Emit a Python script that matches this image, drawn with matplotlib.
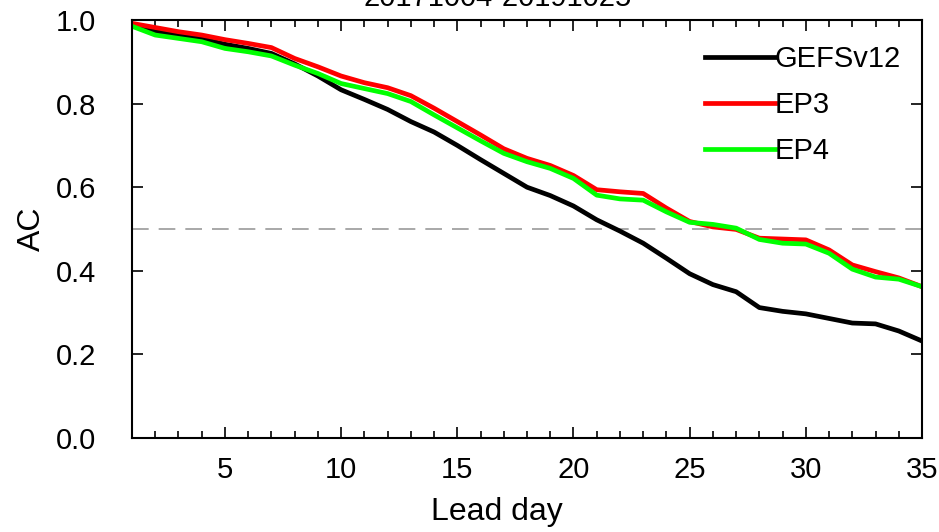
import matplotlib
matplotlib.use('Agg')
import matplotlib.pyplot as plt
from matplotlib import font_manager
from matplotlib.ticker import MultipleLocator
import numpy as np

names = set(f.name for f in font_manager.fontManager.ttflist)
font = 'Liberation Sans Narrow' if 'Liberation Sans Narrow' in names else 'Liberation Sans'
plt.rcParams['font.family'] = [font, 'DejaVu Sans']

lead_day = np.arange(1, 36)
gefsv12 = [0.988, 0.972, 0.964, 0.955, 0.942, 0.932, 0.920, 0.895, 0.866, 0.833,
           0.810, 0.786, 0.757, 0.732, 0.700, 0.666, 0.633, 0.600, 0.580, 0.555,
           0.522, 0.495, 0.466, 0.430, 0.393, 0.367, 0.350, 0.312, 0.303, 0.297,
           0.286, 0.275, 0.273, 0.256, 0.232]
ep3 = [0.992, 0.982, 0.972, 0.964, 0.953, 0.944, 0.934, 0.908, 0.888, 0.866,
       0.850, 0.838, 0.819, 0.789, 0.757, 0.725, 0.692, 0.669, 0.652, 0.628,
       0.594, 0.589, 0.585, 0.550, 0.518, 0.505, 0.499, 0.478, 0.476, 0.474,
       0.450, 0.414, 0.398, 0.383, 0.362]
ep4 = [0.985, 0.964, 0.956, 0.948, 0.932, 0.924, 0.914, 0.892, 0.872, 0.848,
       0.836, 0.824, 0.805, 0.773, 0.742, 0.711, 0.681, 0.661, 0.645, 0.621,
       0.581, 0.572, 0.569, 0.541, 0.516, 0.511, 0.502, 0.475, 0.466, 0.464,
       0.442, 0.404, 0.385, 0.380, 0.362]
title = '20171004-20191025'

fig = plt.figure(figsize=(9.39, 5.32), dpi=100)
ax = fig.add_axes([0.1406, 0.1767, 0.8413, 0.7857])

ax.axhline(0.5, color='#999999', lw=1.2, dashes=(10, 6), zorder=1)
ax.plot(lead_day, gefsv12, color='black', lw=3.4, label='GEFSv12')
ax.plot(lead_day, ep3, color='#ff0000', lw=3.4, label='EP3')
ax.plot(lead_day, ep4, color='#00ff00', lw=3.4, label='EP4')

ax.set_xlim(1, 35)
ax.set_ylim(0, 1)
ax.xaxis.set_major_locator(MultipleLocator(5))
ax.xaxis.set_minor_locator(MultipleLocator(1))
ax.yaxis.set_major_locator(MultipleLocator(0.2))
ax.yaxis.set_major_formatter(plt.FormatStrFormatter('%.1f'))
ax.tick_params(which='both', direction='in', top=True, right=True, width=1.2)
ax.tick_params(which='major', length=8)
ax.tick_params(which='minor', length=5)
ax.tick_params(axis='x', which='major', labelsize=21, pad=13)
ax.tick_params(axis='y', which='major', labelsize=21, pad=26)
for s in ax.spines.values():
    s.set_linewidth(1.5)

ax.set_xlabel('Lead day', fontsize=23)
ax.set_ylabel('AC', fontsize=23)
ax.xaxis.set_label_coords(0.462, -0.14)
ax.yaxis.set_label_coords(-0.108, 0.5)

# title sits partly above the top edge, as in the source image
fig.text(0.53, 0.9887, title, fontsize=21, ha='center', va='baseline')

ax.legend(loc='upper left', bbox_to_anchor=(0.725, 0.94), frameon=False,
          fontsize=21, handlelength=2.4, handletextpad=0.0, labelspacing=0.62,
          borderpad=0, borderaxespad=0)

fig.savefig('out.png', dpi=100)
